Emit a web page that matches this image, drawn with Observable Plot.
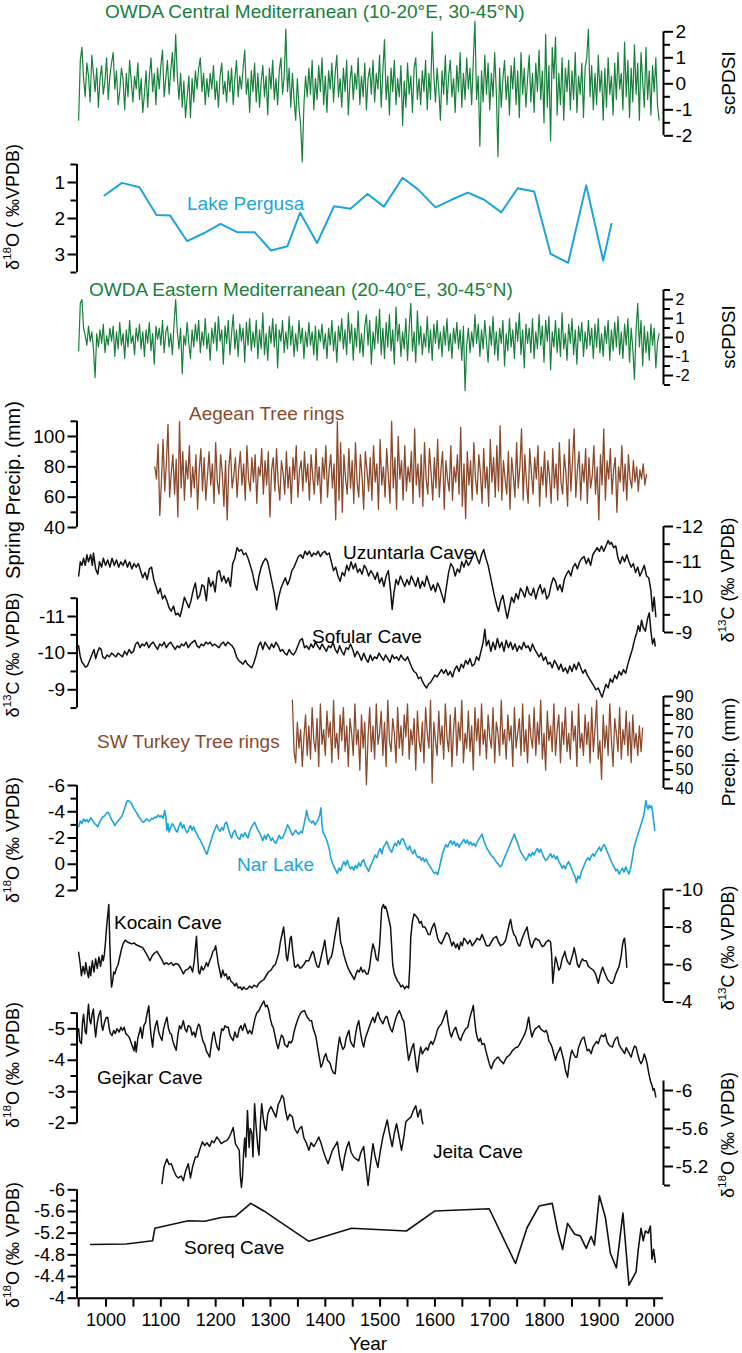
<!DOCTYPE html>
<html><head><meta charset="utf-8">
<script src="https://cdn.jsdelivr.net/npm/d3@7"></script>
<script src="https://cdn.jsdelivr.net/npm/@observablehq/plot@0.6"></script>
<style>
html,body{margin:0;padding:0;background:#fff;}
#chart{position:relative;width:742px;height:1353px;font-family:"Liberation Sans",Arial,sans-serif;}
#chart svg{position:absolute;left:0;top:0;}
</style></head><body><div id="chart"></div>
<script>
// ---------- x axis ----------
const X_DOMAIN = [947, 2017];
const xMajorTicks = [1000,1100,1200,1300,1400,1500,1600,1700,1800,1900,2000];
const xMinorTicks = [950,1050,1150,1250,1350,1450,1550,1650,1750,1850,1950];

// ---------- OWDA Central Mediterranean (scPDSI), 3-yr samples from 950 ----------
const centralStart = 950, centralStep = 3;
const centralVals = [
-1.4,0.9,1.4,0.2,-0.5,0.8,0.3,-0.7,1.1,0.4,
-0.3,0.6,-0.9,0.2,0.7,-0.4,0.1,1.0,-0.6,0.3,
0.8,1.2,-0.2,0.5,-0.8,-0.3,0.6,0.2,-1.0,0.4,
-0.5,0.9,0.1,-0.7,0.3,-0.2,0.8,-0.6,0.2,-1.1,
-0.4,0.5,-0.9,0.3,1.0,-0.3,0.4,-0.8,0.6,-0.2,
0.7,1.3,-0.5,0.2,0.9,-0.4,0.5,1.2,0.1,1.9,
0.3,-0.6,0.4,-0.9,0.1,-1.3,-0.5,0.3,-1.3,0.2,
-0.7,0.5,-0.2,0.6,1.0,-0.3,0.4,-0.8,0.2,-0.5,
0.4,-0.2,0.7,-0.6,0.1,-0.9,0.3,0.8,-0.4,0.1,
-0.7,0.5,-0.3,0.6,-0.8,0.2,0.9,-0.5,0.3,-0.2,
0.6,1.3,-0.4,0.2,-1.1,0.5,-0.3,0.8,-0.7,0.4,
-0.9,0.1,0.7,-0.5,0.3,-1.2,0.6,-0.2,0.9,-0.6,
0.2,-0.8,0.5,1.0,-0.4,0.3,2.1,-0.3,0.6,-0.9,
0.4,-0.6,-1.4,0.2,-0.9,-1.6,-3.0,-0.8,0.3,-0.5,
0.6,-0.4,0.9,-1.0,0.2,-0.6,0.7,-0.3,1.0,-0.8,
0.3,-1.1,0.5,-0.2,0.8,-0.7,0.4,1.1,-0.5,0.2,
-0.9,0.6,-0.3,0.9,-1.2,0.1,0.7,-0.6,0.4,-0.2,
1.0,-0.8,0.3,-0.5,0.8,-1.0,0.2,0.6,-0.4,0.9,
-0.7,0.4,-0.2,1.1,-0.9,0.5,1.7,-0.6,0.3,-1.2,
0.6,-0.3,0.9,-0.8,0.2,-0.5,0.7,-1.6,0.1,-0.9,
0.8,-0.4,0.3,-1.1,0.6,1.0,-0.6,0.2,-0.8,0.5,
-0.3,0.9,-1.0,0.4,-0.6,2.0,0.3,-0.7,0.6,-0.2,
-1.4,0.5,-0.4,1.1,-0.8,0.3,0.9,-0.5,0.2,-1.1,
0.7,-0.3,1.2,-0.9,0.4,-0.6,1.0,-0.2,0.6,-0.8,
0.9,2.4,-0.6,0.3,-2.4,0.5,-0.7,1.1,-0.4,0.8,
-1.0,0.4,-0.5,1.2,-0.3,-2.8,0.6,-0.9,0.2,0.9,
-0.6,0.3,-1.2,0.7,-0.2,1.0,-0.8,0.5,-1.3,1.2,
-0.4,0.6,-0.9,0.2,1.1,-0.7,0.4,-1.1,0.8,-0.3,
1.3,-0.6,0.5,-1.5,1.9,-0.9,0.7,-2.2,1.4,0.2,
1.8,-1.2,0.4,-0.8,1.0,-1.4,0.6,-0.3,0.9,-1.0,
0.5,-0.6,1.2,-1.1,0.3,-0.4,0.8,-1.3,0.6,1.0,
2.1,-0.5,0.7,-1.0,0.4,-0.8,1.1,-0.3,0.5,-1.4,
0.6,-0.9,1.0,-0.4,0.3,-1.2,0.8,-0.6,1.2,-0.2,
0.4,-1.0,1.6,-0.5,0.9,-1.3,0.6,-0.7,1.5,-0.4,
0.8,-1.4,1.2,0.1,-0.9,1.4,-0.6,0.5,-1.2,0.7,
-0.3,1.0,-0.8,-1.4];

// ---------- OWDA Eastern Mediterranean (scPDSI), 3-yr samples from 950 ----------
const easternStart = 950, easternStep = 3;
const easternVals = [
-0.7,1.8,2.0,0.5,0.1,-0.4,0.6,-0.2,0.3,-0.6,
-2.1,0.2,-0.5,0.4,-0.3,0.7,-0.8,0.1,-0.4,0.5,
-0.2,0.6,-1.0,0.3,-0.6,0.8,-0.4,0.2,-1.1,0.4,
-0.5,0.9,-0.3,0.1,-0.9,0.5,-0.2,0.7,-0.6,0.3,
-1.0,0.4,-0.3,0.8,-0.7,0.2,-1.4,0.6,-0.1,0.5,
-0.4,0.9,-0.8,0.3,0.6,-0.5,0.2,-0.9,0.7,2.0,
0.3,-0.6,0.5,-1.9,0.1,-0.4,0.8,-0.3,-1.1,0.4,
-0.5,0.7,-0.2,0.9,-0.8,0.3,-0.4,1.0,-0.6,0.2,
-1.2,0.5,-0.3,0.8,-0.7,1.1,-0.2,0.4,-1.4,0.6,
-0.3,0.9,-0.9,0.2,1.2,-0.6,0.4,-1.0,0.7,-0.2,
0.5,-1.3,0.8,-0.4,1.0,-0.7,0.3,-0.5,0.9,-1.1,
0.4,-0.6,1.3,-0.9,0.2,-1.2,0.6,-0.3,1.0,-0.5,
0.7,-1.6,0.4,-0.2,0.9,-0.8,0.3,-0.6,1.1,-0.4,
0.6,-1.0,0.2,-0.7,0.9,-0.3,0.5,-1.1,0.3,-0.5,
0.8,-0.4,0.3,-0.9,0.6,-1.2,0.4,-0.2,0.7,-0.6,
0.2,-1.1,0.5,-0.4,0.9,-0.7,0.3,-1.3,0.6,-0.2,
1.0,-0.6,0.4,-0.9,1.3,-0.3,0.7,-1.2,0.5,-0.5,
1.4,-0.8,0.2,-1.0,0.6,1.2,-0.4,0.9,-1.4,0.3,
-0.6,1.1,-0.3,1.5,-0.9,0.5,-1.1,0.8,-0.5,1.2,
-0.7,0.4,-1.4,1.6,-0.2,0.7,-1.0,0.3,-0.6,1.0,
-1.2,0.5,1.8,-0.7,0.3,-1.3,1.4,-0.4,0.6,-0.9,
0.2,-0.5,1.1,-0.8,0.4,-1.2,0.7,-0.3,0.9,-0.6,
0.3,-1.0,0.6,-0.4,1.0,-0.7,0.2,-1.1,0.5,-0.3,
0.8,-0.6,0.4,-1.2,0.6,-2.8,-0.4,0.5,-0.8,0.3,
-0.5,1.2,-0.3,0.7,-1.0,0.4,-0.6,0.9,-0.2,-1.3,
0.6,-0.4,1.1,-0.9,0.3,-1.2,0.5,-0.3,0.9,-1.5,
0.2,-0.7,1.0,-0.5,0.4,-1.1,0.8,-0.2,1.3,-0.9,
0.4,-1.6,0.7,-0.3,0.5,-0.8,1.0,-1.1,0.3,-0.6,
1.2,-0.4,0.6,-1.3,0.9,-0.2,1.1,-1.7,0.3,-0.5,
0.9,-0.8,0.5,-1.0,1.3,-0.6,0.2,-1.2,0.7,-0.3,
1.0,-0.9,0.4,-1.4,0.6,-0.2,0.8,-1.0,0.3,-0.6,
0.9,-0.4,0.5,-1.1,0.7,-0.5,1.0,-0.8,0.2,-1.0,
0.6,-0.3,0.9,-1.2,0.4,-0.7,0.8,-0.5,1.1,-0.9,
0.3,-1.1,0.7,-0.4,1.0,-1.3,0.5,-0.6,-2.2,0.4,
1.8,-0.5,0.9,-1.5,0.6,-0.8,0.3,-1.2,0.7,-0.4,
0.5,-1.6,-0.3,0.2];

// ---------- Lake Pergusa d18O ----------
const pergusa = [[997,1.36],[1029,1.01],[1061,1.13],[1092,1.9],[1117,1.92],[1148,2.63],[1178,2.41],[1209,2.15],[1239,2.38],[1271,2.38],[1301,2.89],[1331,2.77],[1354,1.84],[1385,2.68],[1416,1.66],[1446,1.73],[1477,1.32],[1507,1.67],[1541,0.87],[1569,1.19],[1601,1.69],[1630,1.48],[1660,1.28],[1690,1.48],[1721,1.83],[1751,1.16],[1781,1.25],[1811,2.98],[1843,3.23],[1876,1.08],[1907,3.17],[1922,2.15]];

// ---------- Aegean tree rings spring precip (mm), 3-yr samples from 1089 ----------
const aegeanStart = 1089, aegeanStep = 3;
const aegeanVals = [
80,72,95,48,70,98,64,82,108,60,
76,88,62,85,47,110,66,90,58,84,
72,94,60,80,66,88,52,78,92,64,
86,58,74,90,68,82,56,96,70,62,
88,76,54,84,45,80,92,66,74,86,
60,78,90,68,82,58,94,72,64,86,
70,88,56,80,74,92,62,84,68,90,
47,78,86,64,92,70,58,84,76,62,
90,66,80,56,86,72,94,60,78,84,
64,90,70,82,58,88,74,62,92,68,
80,56,86,72,94,60,78,88,66,82,
45,110,58,96,50,88,72,62,92,66,
84,56,96,70,60,88,74,52,90,78,
64,86,58,94,70,82,52,98,68,80,
60,92,74,56,110,66,86,52,100,72,
84,58,94,64,80,70,90,56,105,68,
82,60,88,54,96,72,62,92,76,58,
86,66,98,60,78,90,52,84,72,64,
94,58,80,70,88,62,106,54,82,46,
90,68,84,58,96,72,62,88,76,56,
92,66,80,54,98,70,86,60,94,64,
107,58,84,72,62,90,52,86,74,60,
96,66,80,105,58,88,70,56,92,76,
62,86,72,94,54,80,68,90,60,84,
74,56,92,66,82,58,96,70,62,88,
76,54,98,64,84,105,60,78,90,58,
82,70,92,56,86,66,74,94,62,80,
45,88,68,105,58,84,72,92,62,78,
86,50,80,70,94,64,82,58,88,72,
66,84,70,80,64,78,72,82,68,75];

// ---------- Uzuntarla Cave d13C ----------
const uzuntarla = [[950,-10.6],[953,-11.0],[956,-10.9],[959,-11.1],[962,-10.9],[965,-11.2],[968,-11.0],[972,-11.2],[975,-10.9],[977,-11.25],[981,-10.8],[985,-10.65],[988,-11.0],[992,-10.85],[995,-11.1],[999,-10.9],[1003,-11.05],[1007,-10.85],[1011,-11.1],[1015,-10.9],[1019,-11.05],[1023,-10.85],[1027,-11.0],[1031,-10.9],[1035,-11.05],[1039,-10.85],[1043,-11.0],[1047,-10.8],[1051,-10.95],[1055,-10.85],[1059,-10.95],[1063,-10.75],[1067,-10.55],[1071,-10.7],[1075,-10.5],[1079,-10.8],[1083,-10.85],[1087,-10.5],[1091,-10.3],[1095,-10.1],[1099,-10.25],[1103,-9.95],[1107,-10.05],[1111,-9.9],[1115,-9.7],[1119,-9.6],[1123,-9.75],[1127,-9.5],[1131,-9.55],[1135,-9.45],[1139,-9.7],[1143,-10.0],[1147,-9.85],[1151,-9.7],[1155,-9.9],[1159,-10.2],[1163,-10.4],[1167,-9.95],[1171,-10.05],[1175,-10.35],[1179,-10.3],[1183,-9.9],[1187,-10.55],[1191,-10.3],[1195,-10.45],[1199,-10.15],[1203,-10.7],[1207,-10.75],[1211,-10.45],[1215,-10.6],[1219,-10.4],[1223,-10.55],[1227,-10.3],[1231,-10.95],[1235,-11.1],[1239,-11.4],[1243,-11.3],[1247,-11.35],[1251,-11.2],[1255,-11.25],[1259,-11.1],[1263,-10.9],[1267,-10.7],[1271,-10.4],[1275,-10.2],[1279,-10.6],[1283,-10.85],[1287,-11.0],[1291,-11.1],[1295,-11.0],[1299,-10.7],[1303,-10.4],[1307,-10.1],[1311,-9.65],[1315,-10.0],[1319,-10.25],[1323,-10.4],[1327,-10.55],[1331,-10.35],[1335,-10.5],[1339,-10.75],[1343,-10.85],[1347,-11.0],[1351,-11.15],[1355,-11.2],[1359,-11.1],[1363,-11.3],[1367,-11.2],[1371,-11.3],[1375,-11.15],[1379,-11.25],[1383,-11.2],[1387,-11.3],[1391,-11.15],[1395,-11.25],[1399,-11.3],[1403,-11.2],[1407,-11.25],[1411,-11.0],[1415,-10.75],[1419,-10.85],[1423,-10.6],[1427,-10.45],[1431,-10.7],[1435,-10.6],[1439,-10.9],[1443,-10.75],[1447,-11.0],[1451,-10.8],[1455,-10.95],[1459,-10.7],[1463,-10.8],[1467,-10.65],[1471,-10.9],[1475,-10.8],[1479,-10.6],[1483,-10.75],[1487,-10.65],[1491,-10.5],[1495,-10.7],[1499,-10.4],[1503,-10.55],[1507,-10.3],[1511,-10.6],[1515,-10.75],[1519,-10.2],[1522,-9.65],[1525,-10.1],[1529,-10.5],[1533,-10.35],[1537,-10.6],[1541,-10.45],[1545,-10.3],[1549,-10.5],[1553,-10.35],[1557,-10.6],[1561,-10.45],[1565,-10.3],[1569,-10.55],[1573,-10.25],[1577,-10.45],[1581,-10.3],[1585,-10.6],[1589,-10.4],[1593,-10.2],[1597,-10.35],[1601,-10.15],[1605,-10.4],[1609,-10.25],[1613,-10.05],[1617,-9.85],[1621,-10.3],[1625,-10.7],[1629,-10.95],[1633,-10.85],[1637,-10.6],[1641,-10.8],[1645,-10.7],[1649,-11.0],[1653,-10.85],[1657,-11.05],[1661,-10.9],[1665,-11.0],[1669,-11.15],[1673,-11.3],[1677,-11.1],[1681,-10.95],[1685,-11.2],[1689,-11.35],[1693,-11.1],[1697,-10.9],[1701,-10.6],[1705,-10.3],[1709,-10.0],[1713,-9.75],[1716,-9.6],[1720,-9.9],[1724,-10.05],[1728,-9.7],[1732,-9.4],[1736,-9.7],[1740,-10.0],[1744,-9.85],[1748,-10.1],[1752,-9.95],[1756,-10.25],[1760,-10.15],[1764,-10.0],[1768,-10.3],[1772,-10.1],[1776,-10.05],[1780,-10.25],[1784,-9.95],[1788,-10.2],[1792,-10.35],[1796,-10.1],[1800,-10.25],[1804,-9.95],[1808,-10.05],[1812,-10.35],[1816,-10.55],[1820,-10.45],[1824,-10.2],[1828,-10.35],[1832,-10.15],[1836,-10.5],[1840,-10.65],[1844,-10.75],[1848,-10.6],[1852,-10.85],[1856,-10.95],[1860,-10.8],[1864,-11.0],[1868,-11.1],[1872,-11.15],[1876,-10.95],[1880,-11.1],[1884,-10.9],[1888,-11.2],[1892,-11.3],[1896,-11.4],[1900,-11.3],[1904,-11.45],[1908,-11.3],[1912,-11.45],[1916,-11.6],[1919,-11.5],[1922,-11.55],[1926,-11.4],[1930,-11.45],[1934,-11.1],[1938,-10.95],[1942,-11.15],[1946,-11.0],[1950,-11.2],[1954,-11.0],[1958,-10.85],[1962,-10.95],[1966,-10.7],[1970,-10.85],[1974,-10.6],[1978,-10.75],[1982,-10.9],[1986,-10.6],[1990,-10.55],[1994,-10.2],[1997,-9.6],[2000,-10.0],[2003,-9.45]];

// ---------- Sofular Cave d13C ----------
const sofular = [[950,-10.2],[953,-9.9],[956,-9.75],[959,-9.7],[962,-9.62],[966,-9.65],[970,-9.8],[974,-9.95],[978,-10.1],[981,-9.85],[985,-10.05],[988,-10.15],[991,-10.1],[994,-9.9],[998,-9.85],[1002,-9.95],[1006,-9.9],[1010,-10.0],[1014,-9.95],[1018,-9.9],[1022,-10.0],[1026,-9.95],[1030,-9.9],[1034,-10.05],[1038,-9.95],[1042,-10.1],[1046,-10.0],[1050,-10.05],[1054,-10.25],[1058,-10.3],[1062,-10.15],[1066,-10.25],[1070,-10.2],[1074,-10.3],[1078,-10.15],[1082,-10.25],[1086,-10.3],[1090,-10.2],[1094,-10.1],[1098,-10.25],[1102,-10.2],[1106,-10.3],[1110,-10.15],[1114,-10.25],[1118,-10.3],[1122,-10.2],[1126,-10.1],[1130,-10.2],[1134,-10.15],[1138,-10.25],[1142,-10.2],[1146,-10.3],[1150,-10.15],[1154,-10.25],[1158,-10.3],[1162,-10.35],[1166,-10.2],[1170,-10.15],[1174,-10.25],[1178,-10.2],[1182,-10.3],[1186,-10.25],[1190,-10.3],[1194,-10.2],[1198,-10.25],[1202,-10.2],[1206,-10.15],[1210,-10.25],[1214,-10.3],[1218,-10.2],[1222,-10.3],[1226,-10.25],[1230,-10.2],[1234,-10.1],[1238,-9.9],[1242,-9.8],[1246,-9.75],[1250,-9.7],[1254,-9.8],[1258,-9.7],[1262,-9.65],[1266,-9.6],[1270,-9.75],[1274,-9.95],[1278,-10.2],[1282,-10.3],[1286,-10.1],[1290,-10.3],[1294,-10.2],[1298,-10.1],[1302,-10.25],[1306,-10.15],[1310,-10.3],[1314,-10.2],[1318,-10.05],[1322,-10.1],[1326,-10.0],[1330,-9.95],[1334,-10.1],[1338,-10.0],[1342,-9.95],[1346,-10.05],[1350,-10.2],[1354,-10.35],[1358,-10.4],[1362,-10.15],[1366,-10.2],[1370,-10.1],[1374,-10.25],[1378,-10.15],[1382,-10.3],[1386,-10.2],[1390,-10.1],[1394,-10.25],[1398,-10.15],[1402,-10.05],[1406,-10.2],[1410,-10.15],[1414,-10.3],[1418,-10.1],[1422,-10.0],[1426,-10.2],[1430,-10.05],[1434,-9.95],[1438,-10.15],[1442,-10.1],[1446,-10.25],[1450,-10.1],[1454,-9.9],[1458,-10.05],[1462,-9.95],[1466,-9.8],[1470,-10.0],[1474,-9.85],[1478,-9.75],[1482,-9.95],[1486,-9.8],[1490,-9.9],[1494,-9.85],[1498,-10.0],[1502,-9.9],[1506,-9.8],[1510,-9.95],[1514,-9.85],[1518,-9.75],[1522,-9.95],[1526,-9.85],[1530,-9.9],[1534,-9.8],[1538,-9.95],[1542,-9.85],[1546,-9.8],[1550,-9.9],[1554,-9.75],[1558,-9.6],[1562,-9.5],[1566,-9.45],[1570,-9.3],[1574,-9.35],[1578,-9.2],[1582,-9.1],[1585,-9.05],[1588,-9.15],[1592,-9.2],[1596,-9.3],[1600,-9.4],[1604,-9.35],[1608,-9.45],[1612,-9.55],[1616,-9.45],[1620,-9.55],[1624,-9.4],[1628,-9.5],[1632,-9.35],[1636,-9.55],[1640,-9.65],[1644,-9.5],[1648,-9.7],[1652,-9.6],[1656,-9.8],[1660,-9.7],[1664,-9.85],[1668,-9.65],[1672,-9.7],[1676,-9.9],[1680,-9.8],[1684,-10.05],[1688,-10.3],[1691,-10.65],[1694,-10.2],[1698,-10.35],[1702,-10.05],[1706,-10.3],[1710,-10.1],[1714,-10.4],[1718,-10.15],[1722,-10.3],[1726,-10.05],[1730,-10.35],[1734,-10.15],[1738,-10.3],[1742,-10.1],[1746,-10.25],[1750,-10.05],[1754,-10.2],[1758,-10.1],[1762,-10.3],[1766,-10.15],[1770,-10.2],[1774,-10.05],[1778,-10.25],[1782,-10.1],[1786,-10.0],[1790,-9.9],[1794,-10.0],[1798,-9.8],[1802,-9.9],[1806,-9.7],[1810,-9.75],[1814,-9.6],[1818,-9.8],[1822,-9.7],[1826,-9.55],[1830,-9.7],[1834,-9.5],[1838,-9.6],[1842,-9.45],[1846,-9.65],[1850,-9.5],[1854,-9.7],[1858,-9.55],[1862,-9.75],[1866,-9.6],[1870,-9.45],[1874,-9.55],[1878,-9.4],[1882,-9.3],[1886,-9.2],[1890,-9.1],[1894,-9.0],[1898,-9.05],[1902,-8.9],[1905,-8.8],[1908,-8.95],[1912,-9.15],[1916,-9.05],[1920,-9.3],[1924,-9.2],[1928,-9.4],[1932,-9.3],[1936,-9.5],[1940,-9.4],[1944,-9.55],[1948,-9.45],[1952,-9.7],[1956,-9.9],[1960,-10.1],[1964,-10.35],[1968,-10.55],[1971,-10.75],[1974,-10.6],[1977,-10.9],[1980,-10.7],[1984,-10.6],[1988,-10.95],[1991,-11.1],[1994,-10.6],[1997,-10.25],[2000,-10.4],[2002,-10.2]];

// ---------- SW Turkey tree rings precip (mm), 3-yr samples from 1340 ----------
const swTurkeyStart = 1340, swTurkeyStep = 3;
const swTurkeyVals = [
88,60,54,76,62,72,52,68,80,58,
74,56,84,66,60,78,52,86,64,72,
58,82,68,76,54,88,62,70,56,80,
66,84,60,74,52,78,70,58,86,64,
72,50,80,62,76,42,68,84,60,74,
56,86,64,70,82,58,76,52,88,66,
60,78,70,54,84,62,74,58,80,68,
86,56,72,64,78,50,82,66,60,76,
54,84,70,62,88,43,76,66,58,82,
64,74,56,86,68,60,80,52,72,84,
58,76,66,88,54,70,62,82,60,74,
50,84,66,78,58,86,64,72,56,80,
68,62,84,54,76,70,58,88,64,72,
56,80,66,74,52,84,62,70,78,58,
86,60,72,54,80,68,62,84,58,76,
64,88,56,70,50,82,66,74,60,86,
58,72,80,54,76,64,84,60,70,56,
82,66,74,52,86,62,70,58,80,64,
76,54,84,60,72,88,56,66,45,80,
62,74,58,86,66,52,78,70,60,84,
56,72,64,82,58,76,54,80,62,70,
58,74,60,73];

// ---------- Nar Lake d18O ----------
const nar = [[950,-2.85],[953,-3.3],[956,-3.1],[959,-3.45],[962,-3.25],[965,-3.4],[968,-3.2],[972,-3.55],[976,-3.3],[979,-3.1],[982,-3.0],[985,-2.85],[988,-3.2],[991,-3.4],[994,-3.6],[998,-3.7],[1001,-3.9],[1004,-3.95],[1007,-3.7],[1010,-3.4],[1013,-3.2],[1016,-2.95],[1019,-3.15],[1022,-3.3],[1026,-3.5],[1029,-3.65],[1032,-4.0],[1035,-4.4],[1038,-4.8],[1041,-4.85],[1044,-4.75],[1047,-4.6],[1050,-4.3],[1053,-4.1],[1056,-3.9],[1059,-3.65],[1062,-3.5],[1065,-3.3],[1068,-3.2],[1071,-3.3],[1074,-3.45],[1077,-3.35],[1080,-3.3],[1083,-3.5],[1086,-3.45],[1089,-3.6],[1092,-3.55],[1095,-3.75],[1098,-3.6],[1101,-3.7],[1104,-3.5],[1107,-4.1],[1109,-3.6],[1111,-2.6],[1113,-3.1],[1115,-2.45],[1118,-2.8],[1121,-3.1],[1124,-2.9],[1127,-2.6],[1130,-2.45],[1133,-2.9],[1136,-3.2],[1139,-2.75],[1142,-3.0],[1145,-2.6],[1148,-2.4],[1151,-2.7],[1154,-2.95],[1157,-2.6],[1160,-2.85],[1163,-2.5],[1166,-2.3],[1169,-2.0],[1172,-1.85],[1175,-1.55],[1178,-1.3],[1181,-1.0],[1184,-0.75],[1187,-1.2],[1190,-1.6],[1193,-2.0],[1196,-2.4],[1199,-2.7],[1202,-3.0],[1205,-2.7],[1208,-2.5],[1211,-2.8],[1214,-2.6],[1217,-3.1],[1220,-3.2],[1223,-2.7],[1226,-2.3],[1229,-2.0],[1232,-2.4],[1235,-2.6],[1238,-2.2],[1241,-2.0],[1244,-1.9],[1247,-2.3],[1250,-2.1],[1253,-2.4],[1256,-2.2],[1259,-2.0],[1262,-2.5],[1265,-2.8],[1268,-3.0],[1271,-3.2],[1274,-2.9],[1277,-2.6],[1280,-2.4],[1283,-2.1],[1286,-1.8],[1289,-2.2],[1292,-1.9],[1295,-2.3],[1298,-2.1],[1301,-1.8],[1304,-2.0],[1307,-1.7],[1310,-1.6],[1313,-1.9],[1316,-2.2],[1319,-1.95],[1322,-2.0],[1325,-2.3],[1328,-2.6],[1331,-3.0],[1334,-2.8],[1337,-2.5],[1340,-2.2],[1343,-2.4],[1346,-2.6],[1349,-2.4],[1352,-2.3],[1355,-2.5],[1358,-2.4],[1361,-3.0],[1364,-3.6],[1366,-4.1],[1369,-3.5],[1372,-3.3],[1375,-3.15],[1378,-3.3],[1381,-3.0],[1384,-3.2],[1387,-3.4],[1390,-3.8],[1392,-4.3],[1394,-3.0],[1396,-2.4],[1399,-2.2],[1402,-1.9],[1405,-1.5],[1408,-1.0],[1410,-0.5],[1413,-0.1],[1416,0.2],[1419,0.45],[1422,0.7],[1425,0.3],[1428,0.5],[1431,0.1],[1434,-0.2],[1437,0.1],[1440,-0.3],[1443,0.1],[1446,0.35],[1449,0.2],[1452,0.45],[1455,0.1],[1458,0.3],[1461,-0.1],[1464,0.15],[1467,-0.2],[1470,-0.35],[1473,0.05],[1476,0.3],[1479,0.55],[1482,0.2],[1485,-0.1],[1488,-0.4],[1491,-0.7],[1494,-0.5],[1497,-0.9],[1500,-1.2],[1503,-0.8],[1506,-1.3],[1509,-1.5],[1512,-1.75],[1515,-1.4],[1518,-1.1],[1521,-0.9],[1524,-1.3],[1527,-1.6],[1530,-1.4],[1533,-1.8],[1536,-1.5],[1539,-1.9],[1542,-1.95],[1545,-1.6],[1548,-1.3],[1551,-1.1],[1554,-1.4],[1557,-1.0],[1560,-0.8],[1563,-1.1],[1566,-0.7],[1569,-0.5],[1572,-0.6],[1575,-0.3],[1578,-0.5],[1581,-0.2],[1584,-0.4],[1587,-0.1],[1590,0.1],[1593,0.3],[1596,0.5],[1599,0.7],[1602,0.6],[1605,0.8],[1608,0.3],[1611,-0.3],[1614,-0.8],[1617,-1.2],[1620,-1.5],[1623,-1.3],[1626,-1.6],[1629,-1.8],[1632,-1.5],[1635,-1.75],[1638,-1.4],[1641,-1.6],[1644,-1.3],[1647,-1.55],[1650,-1.7],[1653,-1.9],[1656,-1.6],[1659,-1.85],[1662,-1.5],[1665,-1.7],[1668,-1.45],[1671,-1.6],[1674,-1.35],[1677,-1.7],[1680,-1.9],[1683,-2.1],[1686,-2.3],[1689,-1.8],[1692,-1.5],[1695,-1.2],[1698,-1.0],[1701,-0.8],[1704,-0.6],[1707,-0.5],[1710,-0.3],[1713,-0.1],[1716,0.0],[1719,0.2],[1722,0.05],[1725,-0.3],[1728,-0.6],[1731,-0.9],[1734,-1.2],[1737,-1.5],[1740,-1.8],[1743,-2.1],[1745,-2.3],[1748,-1.9],[1751,-1.6],[1754,-1.2],[1757,-0.9],[1760,-0.7],[1763,-0.5],[1766,-0.3],[1769,-0.5],[1772,-0.8],[1775,-0.6],[1778,-0.9],[1781,-0.7],[1784,-1.0],[1787,-1.2],[1790,-0.9],[1793,-1.15],[1796,-0.8],[1799,-0.5],[1802,-0.3],[1805,-0.4],[1808,-0.6],[1811,-0.8],[1814,-0.5],[1817,-0.7],[1820,-0.4],[1823,-0.6],[1826,-0.2],[1829,0.0],[1832,0.3],[1835,0.1],[1838,0.35],[1841,0.0],[1844,-0.2],[1847,0.1],[1850,0.4],[1853,0.7],[1856,1.0],[1858,1.4],[1861,0.9],[1864,1.1],[1867,0.6],[1870,0.3],[1873,0.0],[1876,-0.3],[1879,-0.5],[1882,-0.3],[1885,-0.6],[1888,-0.8],[1891,-0.6],[1894,-0.9],[1897,-1.1],[1900,-1.3],[1903,-1.0],[1906,-1.35],[1909,-1.5],[1912,-1.2],[1915,-0.9],[1918,-0.6],[1921,-0.3],[1924,0.0],[1927,0.2],[1930,0.5],[1933,0.4],[1936,0.75],[1939,0.5],[1942,0.3],[1945,0.6],[1948,0.2],[1951,0.5],[1954,0.75],[1957,0.3],[1960,-0.4],[1963,-1.2],[1966,-1.7],[1969,-2.1],[1972,-2.5],[1975,-2.9],[1978,-3.3],[1981,-3.7],[1983,-4.3],[1985,-4.85],[1987,-4.4],[1989,-4.2],[1991,-4.5],[1993,-4.3],[1995,-4.45],[1997,-4.0],[1999,-3.3],[2001,-2.6]];

// ---------- Kocain Cave d13C ----------
const kocain = [[950,-6.65],[953,-6.0],[955,-5.4],[958,-5.9],[961,-5.5],[963,-6.1],[965,-5.7],[968,-5.3],[970,-5.9],[972,-5.4],[975,-6.2],[978,-5.6],[981,-6.3],[984,-5.8],[987,-6.4],[990,-5.9],[993,-6.5],[995,-6.2],[997,-6.55],[999,-7.2],[1001,-8.0],[1003,-8.6],[1005,-9.2],[1007,-7.0],[1009,-5.3],[1010,-4.8],[1012,-5.1],[1014,-5.6],[1016,-5.5],[1019,-5.8],[1022,-6.0],[1025,-6.4],[1028,-6.8],[1031,-7.1],[1035,-7.3],[1039,-7.2],[1043,-7.15],[1047,-7.1],[1051,-7.15],[1055,-7.05],[1059,-7.0],[1063,-6.95],[1067,-6.9],[1071,-6.7],[1075,-6.5],[1080,-6.2],[1084,-6.45],[1088,-6.6],[1093,-6.7],[1097,-6.5],[1101,-6.3],[1106,-6.0],[1110,-6.1],[1114,-6.0],[1119,-6.1],[1123,-5.95],[1127,-6.05],[1132,-6.0],[1136,-5.8],[1141,-5.5],[1145,-5.7],[1149,-5.75],[1154,-5.9],[1158,-5.6],[1161,-6.2],[1163,-6.9],[1165,-7.5],[1167,-6.4],[1169,-5.6],[1171,-5.5],[1174,-5.9],[1177,-5.7],[1180,-5.85],[1183,-6.1],[1186,-5.9],[1189,-6.2],[1192,-6.4],[1195,-6.7],[1198,-6.8],[1200,-7.0],[1202,-6.6],[1205,-6.0],[1208,-5.6],[1210,-5.3],[1213,-5.7],[1216,-5.4],[1219,-5.5],[1222,-5.2],[1225,-5.35],[1228,-5.1],[1232,-5.0],[1235,-4.85],[1238,-5.0],[1241,-4.75],[1245,-4.8],[1248,-4.65],[1251,-4.8],[1254,-4.7],[1258,-4.7],[1262,-4.85],[1266,-4.75],[1270,-4.9],[1275,-4.8],[1279,-5.0],[1283,-5.1],[1288,-5.2],[1292,-5.4],[1296,-5.6],[1301,-5.7],[1305,-5.9],[1309,-6.0],[1312,-6.3],[1315,-6.6],[1318,-7.2],[1321,-7.6],[1324,-8.0],[1327,-7.1],[1329,-6.4],[1331,-6.2],[1334,-6.9],[1336,-7.4],[1338,-7.5],[1341,-6.6],[1344,-5.9],[1346,-5.85],[1350,-6.0],[1354,-5.8],[1357,-5.85],[1361,-6.0],[1365,-6.2],[1370,-6.2],[1374,-6.5],[1377,-6.7],[1379,-6.6],[1382,-6.2],[1385,-5.9],[1388,-5.85],[1391,-6.2],[1394,-6.6],[1397,-7.0],[1399,-7.3],[1402,-6.6],[1405,-6.0],[1408,-6.3],[1411,-6.4],[1414,-6.8],[1417,-7.4],[1420,-7.9],[1422,-8.3],[1424,-8.5],[1426,-7.8],[1428,-7.2],[1431,-6.9],[1434,-6.5],[1437,-6.2],[1441,-5.85],[1445,-5.6],[1449,-5.4],[1453,-5.2],[1456,-5.5],[1459,-5.7],[1462,-5.6],[1465,-5.85],[1468,-5.6],[1471,-5.7],[1475,-5.5],[1478,-5.5],[1481,-5.9],[1484,-6.6],[1487,-7.1],[1490,-6.8],[1493,-6.3],[1496,-6.2],[1499,-7.0],[1501,-8.0],[1503,-9.0],[1506,-9.2],[1508,-9.0],[1510,-9.1],[1513,-8.8],[1516,-8.4],[1519,-8.0],[1521,-7.0],[1523,-6.0],[1526,-5.5],[1529,-5.3],[1532,-5.1],[1535,-5.0],[1538,-4.8],[1541,-4.9],[1545,-4.7],[1548,-4.85],[1552,-4.75],[1554,-5.8],[1556,-7.5],[1559,-8.3],[1562,-8.7],[1565,-8.6],[1569,-8.45],[1572,-8.2],[1575,-8.3],[1578,-8.0],[1582,-8.0],[1585,-7.8],[1588,-7.6],[1591,-7.6],[1594,-7.9],[1597,-8.1],[1599,-8.2],[1602,-7.8],[1605,-7.4],[1608,-7.2],[1612,-7.1],[1615,-7.3],[1618,-7.5],[1621,-7.7],[1625,-7.6],[1628,-7.3],[1631,-7.0],[1634,-7.2],[1638,-6.9],[1641,-7.1],[1644,-6.8],[1647,-7.2],[1650,-7.0],[1653,-7.4],[1656,-7.3],[1660,-7.1],[1664,-7.3],[1668,-7.0],[1673,-7.2],[1677,-7.4],[1682,-7.3],[1686,-7.6],[1690,-7.3],[1694,-7.0],[1699,-7.0],[1703,-7.2],[1707,-7.4],[1712,-7.5],[1716,-7.2],[1720,-7.0],[1725,-7.1],[1729,-7.3],[1733,-7.8],[1736,-8.2],[1738,-8.4],[1741,-7.9],[1744,-7.6],[1747,-7.5],[1750,-7.2],[1753,-7.0],[1755,-7.0],[1758,-7.3],[1762,-7.6],[1765,-7.8],[1768,-8.0],[1771,-7.5],[1774,-7.1],[1777,-6.9],[1780,-7.2],[1784,-7.4],[1788,-7.3],[1790,-7.3],[1793,-7.1],[1796,-6.95],[1799,-7.0],[1803,-7.2],[1807,-7.3],[1811,-7.2],[1813,-6.5],[1815,-5.0],[1817,-5.6],[1820,-6.4],[1823,-6.1],[1826,-5.7],[1829,-5.85],[1832,-6.3],[1835,-6.5],[1837,-6.7],[1840,-6.3],[1843,-6.1],[1846,-6.0],[1849,-6.3],[1852,-6.6],[1854,-6.9],[1857,-6.5],[1860,-6.0],[1863,-5.85],[1866,-6.1],[1869,-6.3],[1872,-6.2],[1876,-6.2],[1880,-5.9],[1884,-5.8],[1889,-5.7],[1893,-5.5],[1896,-5.2],[1898,-5.0],[1901,-5.4],[1904,-5.7],[1906,-5.85],[1909,-5.6],[1912,-5.4],[1915,-5.2],[1918,-5.1],[1921,-5.0],[1924,-5.0],[1927,-5.2],[1930,-5.5],[1933,-5.7],[1936,-5.9],[1938,-6.2],[1940,-6.5],[1942,-7.0],[1944,-7.3],[1946,-7.4],[1948,-6.8],[1950,-5.85]];

// ---------- Gejkar Cave d18O ----------
const gejkar = [[950,-5.0],[952,-4.6],[955,-4.53],[957,-5.2],[959,-5.46],[962,-4.9],[964,-4.84],[966,-5.4],[968,-5.78],[970,-5.3],[972,-5.16],[975,-5.5],[977,-5.63],[979,-5.1],[981,-4.74],[984,-5.2],[987,-5.45],[990,-5.58],[992,-5.1],[994,-4.95],[997,-5.2],[1000,-5.35],[1003,-5.37],[1006,-5.0],[1008,-4.85],[1011,-4.79],[1014,-4.95],[1017,-4.85],[1020,-5.0],[1024,-4.9],[1027,-5.05],[1030,-4.95],[1033,-5.05],[1036,-4.85],[1039,-4.8],[1042,-4.74],[1045,-4.6],[1048,-4.45],[1051,-4.3],[1053,-4.6],[1055,-4.26],[1058,-4.7],[1061,-4.9],[1063,-5.05],[1066,-4.7],[1069,-5.1],[1072,-5.2],[1075,-5.5],[1078,-5.73],[1080,-5.2],[1082,-4.8],[1085,-4.42],[1087,-4.8],[1090,-5.1],[1093,-5.26],[1096,-4.9],[1099,-4.75],[1102,-4.63],[1105,-5.0],[1108,-5.2],[1111,-5.37],[1114,-5.0],[1117,-4.85],[1119,-4.84],[1122,-4.6],[1125,-4.45],[1128,-4.32],[1131,-4.8],[1134,-5.1],[1137,-5.0],[1141,-5.26],[1144,-5.0],[1147,-4.9],[1150,-5.1],[1154,-5.05],[1157,-4.8],[1160,-4.9],[1163,-4.74],[1166,-5.0],[1169,-5.15],[1171,-5.1],[1174,-4.8],[1177,-4.6],[1180,-4.5],[1183,-4.3],[1186,-4.2],[1189,-4.1],[1192,-4.5],[1195,-4.84],[1197,-4.9],[1200,-4.6],[1203,-4.4],[1206,-4.32],[1208,-4.7],[1211,-5.0],[1214,-4.95],[1217,-5.1],[1220,-5.05],[1223,-5.05],[1226,-4.8],[1229,-4.7],[1232,-4.63],[1235,-4.9],[1238,-4.74],[1240,-4.74],[1243,-5.0],[1246,-5.1],[1249,-4.95],[1253,-5.16],[1256,-5.0],[1259,-4.85],[1262,-4.95],[1266,-4.84],[1269,-5.1],[1272,-5.35],[1275,-5.5],[1279,-5.58],[1282,-5.7],[1285,-5.8],[1288,-5.88],[1291,-5.7],[1294,-5.75],[1297,-5.58],[1300,-5.3],[1303,-5.1],[1305,-5.05],[1308,-4.8],[1311,-4.55],[1314,-4.37],[1317,-4.6],[1320,-4.8],[1323,-4.74],[1326,-4.5],[1329,-4.45],[1331,-4.42],[1334,-4.6],[1337,-4.55],[1340,-4.63],[1343,-4.9],[1346,-5.1],[1349,-5.26],[1352,-5.4],[1355,-5.5],[1358,-5.55],[1362,-5.58],[1365,-5.45],[1368,-5.35],[1372,-5.26],[1375,-5.26],[1378,-5.0],[1381,-4.85],[1383,-4.74],[1386,-4.4],[1389,-4.1],[1392,-3.78],[1395,-3.9],[1398,-4.1],[1401,-4.21],[1404,-4.0],[1407,-3.95],[1409,-3.89],[1412,-3.7],[1415,-3.6],[1418,-3.57],[1421,-4.1],[1424,-4.5],[1426,-4.74],[1429,-4.5],[1432,-4.35],[1435,-4.42],[1438,-4.7],[1441,-4.85],[1443,-4.95],[1446,-4.6],[1449,-4.5],[1452,-4.42],[1455,-4.8],[1458,-5.1],[1461,-5.26],[1464,-4.9],[1467,-4.6],[1470,-4.42],[1473,-4.7],[1476,-4.85],[1478,-4.95],[1481,-5.1],[1484,-5.25],[1487,-5.37],[1490,-5.2],[1493,-5.4],[1496,-5.53],[1499,-5.35],[1502,-5.25],[1505,-5.16],[1508,-5.3],[1511,-5.4],[1513,-5.37],[1516,-5.15],[1519,-5.0],[1522,-4.9],[1525,-5.1],[1528,-5.3],[1531,-5.45],[1535,-5.58],[1538,-5.45],[1541,-5.3],[1543,-5.26],[1546,-4.9],[1549,-4.4],[1552,-4.0],[1555,-4.2],[1558,-4.4],[1561,-4.53],[1564,-4.1],[1566,-3.8],[1568,-3.63],[1571,-4.1],[1574,-4.42],[1577,-4.2],[1580,-4.3],[1584,-4.4],[1587,-4.32],[1590,-4.5],[1593,-4.6],[1596,-4.5],[1599,-4.63],[1602,-4.8],[1605,-5.0],[1609,-5.1],[1612,-5.16],[1615,-5.3],[1618,-5.45],[1621,-5.58],[1624,-5.2],[1627,-4.9],[1630,-4.74],[1633,-4.9],[1636,-5.0],[1638,-5.05],[1641,-4.85],[1644,-4.7],[1647,-4.63],[1650,-4.8],[1653,-4.9],[1656,-5.0],[1660,-5.05],[1663,-5.3],[1666,-5.5],[1668,-5.6],[1670,-5.74],[1673,-5.2],[1675,-4.9],[1677,-4.74],[1680,-4.6],[1683,-4.7],[1686,-4.5],[1690,-4.53],[1693,-4.3],[1696,-4.1],[1699,-3.9],[1701,-3.8],[1703,-3.73],[1706,-3.9],[1709,-4.0],[1712,-4.05],[1714,-4.1],[1716,-4.1],[1719,-4.0],[1722,-3.95],[1725,-3.89],[1728,-4.0],[1731,-4.1],[1735,-4.15],[1738,-4.21],[1741,-4.3],[1744,-4.35],[1747,-4.4],[1751,-4.42],[1754,-4.5],[1757,-4.6],[1760,-4.7],[1764,-4.84],[1767,-5.0],[1769,-5.2],[1771,-5.37],[1774,-5.0],[1777,-4.74],[1780,-4.9],[1783,-5.0],[1787,-5.05],[1790,-5.1],[1793,-5.0],[1796,-4.95],[1800,-4.9],[1803,-4.95],[1806,-4.8],[1808,-4.6],[1811,-4.53],[1814,-4.4],[1817,-4.2],[1820,-4.0],[1823,-4.2],[1826,-4.3],[1829,-4.42],[1832,-4.2],[1835,-4.0],[1838,-3.7],[1842,-3.46],[1845,-3.9],[1848,-4.2],[1850,-4.32],[1853,-4.2],[1856,-4.1],[1859,-4.1],[1862,-4.4],[1866,-4.6],[1869,-4.7],[1872,-4.74],[1875,-4.5],[1878,-4.3],[1881,-4.35],[1885,-4.21],[1888,-4.4],[1891,-4.5],[1895,-4.6],[1898,-4.53],[1901,-4.7],[1904,-4.8],[1908,-4.75],[1911,-4.84],[1914,-4.6],[1917,-4.5],[1920,-4.45],[1924,-4.42],[1927,-4.6],[1930,-4.7],[1933,-4.74],[1936,-4.5],[1939,-4.4],[1943,-4.3],[1946,-4.21],[1949,-4.4],[1952,-4.3],[1955,-4.2],[1958,-4.1],[1961,-4.3],[1964,-4.45],[1967,-4.42],[1970,-4.2],[1973,-4.0],[1976,-3.89],[1979,-4.0],[1982,-4.2],[1984,-4.1],[1987,-3.9],[1990,-3.6],[1993,-3.36],[1996,-3.2],[1998,-3.05],[2000,-3.1],[2003,-2.84]];

// ---------- Jeita Cave d18O ----------
const jeita = [[1102,-5.02],[1106,-5.2],[1111,-5.28],[1115,-5.22],[1119,-5.23],[1124,-5.15],[1128,-5.1],[1132,-5.08],[1137,-5.1],[1141,-5.05],[1145,-5.15],[1150,-5.23],[1154,-5.08],[1158,-5.2],[1163,-5.3],[1167,-5.3],[1171,-5.38],[1176,-5.46],[1180,-5.42],[1184,-5.45],[1189,-5.41],[1193,-5.47],[1197,-5.45],[1202,-5.51],[1206,-5.48],[1210,-5.44],[1215,-5.46],[1219,-5.47],[1223,-5.49],[1228,-5.55],[1232,-5.61],[1236,-5.44],[1240,-5.4],[1243,-5.37],[1245,-5.1],[1247,-4.98],[1249,-5.1],[1251,-5.35],[1253,-5.5],[1255,-5.3],[1258,-5.79],[1261,-5.4],[1263,-5.6],[1266,-5.55],[1268,-5.3],[1271,-5.86],[1274,-5.6],[1277,-5.4],[1279,-5.32],[1282,-5.7],[1284,-5.86],[1287,-5.7],[1290,-5.6],[1292,-5.58],[1295,-5.75],[1298,-5.8],[1301,-5.83],[1305,-5.78],[1310,-5.72],[1314,-5.85],[1318,-5.9],[1321,-5.95],[1324,-5.92],[1327,-5.8],[1331,-5.69],[1335,-5.75],[1340,-5.72],[1344,-5.6],[1349,-5.55],[1353,-5.6],[1357,-5.62],[1361,-5.5],[1366,-5.44],[1370,-5.37],[1374,-5.45],[1379,-5.41],[1383,-5.45],[1388,-5.51],[1392,-5.45],[1396,-5.37],[1400,-5.3],[1405,-5.23],[1409,-5.3],[1413,-5.37],[1418,-5.42],[1422,-5.46],[1426,-5.3],[1431,-5.16],[1435,-5.3],[1439,-5.4],[1443,-5.46],[1447,-5.35],[1452,-5.3],[1456,-5.28],[1461,-5.26],[1465,-5.35],[1470,-5.41],[1474,-5.2],[1478,-5.0],[1482,-5.2],[1487,-5.44],[1491,-5.3],[1496,-5.19],[1500,-5.35],[1505,-5.51],[1509,-5.6],[1513,-5.69],[1517,-5.55],[1522,-5.41],[1526,-5.55],[1530,-5.65],[1535,-5.5],[1539,-5.37],[1543,-5.5],[1547,-5.67],[1552,-5.7],[1556,-5.72],[1560,-5.78],[1565,-5.84],[1569,-5.72],[1572,-5.78],[1574,-5.8],[1576,-5.7],[1578,-5.65]];

// ---------- Soreq Cave d18O ----------
const soreq = [[972,-4.99],[1037,-5.0],[1085,-5.06],[1089,-5.29],[1150,-5.43],[1180,-5.42],[1210,-5.49],[1236,-5.51],[1264,-5.75],[1288,-5.61],[1314,-5.43],[1370,-5.05],[1448,-5.29],[1548,-5.24],[1600,-5.61],[1699,-5.65],[1747,-4.64],[1768,-5.3],[1790,-5.7],[1814,-5.75],[1824,-5.24],[1833,-4.9],[1842,-5.38],[1855,-5.18],[1865,-5.15],[1876,-4.92],[1885,-5.14],[1891,-4.98],[1900,-5.89],[1911,-5.49],[1920,-4.83],[1931,-4.56],[1943,-5.57],[1954,-4.24],[1967,-4.49],[1971,-4.9],[1976,-5.29],[1980,-5.06],[1984,-5.24],[1989,-5.2],[1993,-5.33],[1996,-4.72],[1999,-4.9],[2002,-4.66]];

// ---------- rendering ----------
const W = 742, H = 1353, ML = 76.5, MR = 79;
const FONT = '"Liberation Sans", Arial, sans-serif';
const GREEN = "#17803b", BLUE = "#1ca4dc", BROWN = "#8b4a2b", BLACK = "#111";
const chart = document.getElementById("chart");

const regular = (start, step, vals) => vals.map((v, i) => ({year: start + i * step, v}));
const pairs = arr => arr.map(([year, v]) => ({year, v}));
const fmt = d => String(d);

function panel({data, color, sw = 1.4, domain, range, side, major, minor, extra = [], mb = 0, fs = 19}) {
  const edge = side === "left" ? X_DOMAIN[0] : X_DOMAIN[1];
  const svg = Plot.plot({
    width: W, height: H, marginLeft: ML, marginRight: MR, marginTop: 0, marginBottom: mb,
    style: {background: "transparent", overflow: "visible", fontFamily: FONT, fontSize: fs + "px", color: "#000"},
    x: {domain: X_DOMAIN, axis: null},
    y: {domain, range, axis: null},
    marks: [
      Plot.line(data, {x: "year", y: "v", stroke: color, strokeWidth: sw, strokeLinejoin: "round"}),
      Plot.ruleX([edge], {y1: domain[0], y2: domain[1], stroke: "#000", strokeWidth: 2}),
      Plot.axisY({anchor: side, ticks: major, tickSize: 9, tickPadding: 3, tickFormat: fmt, strokeWidth: 2, label: null, fontSize: fs}),
      Plot.axisY({anchor: side, ticks: minor, tickSize: 6, tickFormat: () => "", strokeWidth: 2, label: null}),
      ...extra
    ]
  });
  svg.querySelectorAll("text").forEach(t => t.setAttribute("font-size", fs));
  chart.appendChild(svg);
  return svg;
}

// 1 OWDA Central
panel({data: regular(centralStart, centralStep, centralVals), color: GREEN, sw: 1.2,
  domain: [-2, 2], range: [135.3, 31.3], side: "right", major: [-2,-1,0,1,2], minor: [-1.5,-0.5,0.5,1.5]});
// 2 Lake Pergusa
panel({data: pairs(pergusa), color: BLUE, sw: 2,
  domain: [0.5, 3.5], range: [164, 272], side: "left", major: [1,2,3], minor: [0.5,1.5,2.5,3.5]});
// 3 OWDA Eastern
panel({data: regular(easternStart, easternStep, easternVals), color: GREEN, sw: 1.2, fs: 16,
  domain: [-2.5, 2.5], range: [384.5, 289.5], side: "right", major: [-2,-1,0,1,2], minor: [-2.5,-1.5,-0.5,0.5,1.5,2.5]});
// 4 Aegean
panel({data: regular(aegeanStart, aegeanStep, aegeanVals), color: BROWN, sw: 1.3,
  domain: [40, 110], range: [527, 420.8], side: "left", major: [40,60,80,100], minor: [50,70,90,110]});
// 5 Uzuntarla
panel({data: pairs(uzuntarla), color: BLACK, sw: 1.5,
  domain: [-12, -9], range: [526, 632], side: "right", major: [-12,-11,-10,-9], minor: [-11.5,-10.5,-9.5]});
// 6 Sofular
panel({data: pairs(sofular), color: BLACK, sw: 1.5,
  domain: [-11.5, -8.5], range: [597.7, 707.6], side: "left", major: [-11,-10,-9], minor: [-11.5,-10.5,-9.5,-8.5]});
// 7 SW Turkey
panel({data: regular(swTurkeyStart, swTurkeyStep, swTurkeyVals), color: BROWN, sw: 1.3, fs: 16,
  domain: [40, 90], range: [788, 696], side: "right", major: [40,50,60,70,80,90], minor: [45,55,65,75,85]});
// 8 Nar Lake
panel({data: pairs(nar), color: BLUE, sw: 1.6,
  domain: [-6, 2], range: [785, 890], side: "left", major: [-6,-4,-2,0,2], minor: [-5,-3,-1,1]});
// 9 Kocain
panel({data: pairs(kocain), color: BLACK, sw: 1.5,
  domain: [-10, -4], range: [889, 1001.5], side: "right", major: [-10,-8,-6,-4], minor: [-9,-7,-5]});
// 10 Gejkar
panel({data: pairs(gejkar), color: BLACK, sw: 1.5,
  domain: [-5.5, -2], range: [1012.6, 1122.7], side: "left", major: [-5,-4,-3,-2], minor: [-5.5,-4.5,-3.5,-2.5]});
// 11 Jeita
panel({data: pairs(jeita), color: BLACK, sw: 1.5,
  domain: [-6.1, -5.0], range: [1080.5, 1185], side: "right", major: [-6,-5.6,-5.2], minor: [-5.8,-5.4,-5.0]});
// 12 Soreq + x axis
panel({data: pairs(soreq), color: BLACK, sw: 1.6, fs: 18,
  domain: [-6, -4], range: [1189.3, 1297.7], side: "left", major: [-6,-5.6,-5.2,-4.8,-4.4,-4], minor: [-5.8,-5.4,-5.0,-4.6,-4.2],
  mb: H - 1297.7,
  extra: [
    Plot.ruleY([-4], {stroke: "#000", strokeWidth: 2}),
    Plot.axisX({anchor: "bottom", ticks: xMinorTicks, tickSize: 9, tickFormat: () => "", strokeWidth: 2, label: null}),
    Plot.axisX({anchor: "bottom", ticks: xMajorTicks, tickSize: 9, tickPadding: 6, tickFormat: fmt, strokeWidth: 2, label: null})
  ]});

// ---------- overlay text ----------
const ov = d3.select(chart).append("svg")
  .attr("width", W).attr("height", H)
  .style("font-family", FONT);

function label(x, y, text, color = "#000", size = 19) {
  ov.append("text").attr("x", x).attr("y", y).attr("dominant-baseline", "central")
    .attr("font-size", size).attr("fill", color).text(text);
}
function vlabel(x, y, parts, size = 18) {
  const t = ov.append("text").attr("transform", `translate(${x},${y}) rotate(-90)`)
    .attr("text-anchor", "middle").attr("dominant-baseline", "central").attr("font-size", size);
  parts.forEach(p => {
    const s = t.append("tspan").text(p.t);
    if (p.sup) s.attr("baseline-shift", "super").attr("font-size", size * 0.65);
  });
}
const iso = (n, el, rest) => [{t: "δ"}, {t: n, sup: true}, {t: el + rest}];

label(105, 11, "OWDA Central Mediterranean (10-20°E, 30-45°N)", GREEN);
label(187, 203, "Lake Pergusa", BLUE);
label(89, 289, "OWDA Eastern Mediterranean (20-40°E, 30-45°N)", GREEN);
label(189, 413, "Aegean Tree rings", BROWN);
label(343, 552, "Uzuntarla Cave");
label(312, 636, "Sofular Cave");
label(97, 741, "SW Turkey Tree rings", BROWN);
label(237, 864, "Nar Lake", BLUE);
label(114, 922, "Kocain Cave");
label(97, 1077, "Gejkar Cave");
label(433, 1151, "Jeita Cave");
label(184, 1247, "Soreq Cave");
ov.append("text").attr("x", 368).attr("y", 1343).attr("text-anchor", "middle")
  .attr("dominant-baseline", "central").attr("font-size", 19).text("Year");

// right axis titles
vlabel(728, 83, [{t: "scPDSI"}], 19);
vlabel(728, 337, [{t: "scPDSI"}], 19);
vlabel(728, 580, iso("13", "C", " (‰ VPDB)"));
vlabel(728, 752, [{t: "Precip. (mm)"}], 19);
vlabel(728, 948, iso("13", "C", " (‰ VPDB)"));
vlabel(728, 1135, iso("18", "O", " (‰ VPDB)"));
// left axis titles
vlabel(13, 207, iso("18", "O", " ( ‰VPDB)"));
vlabel(13, 490, [{t: "Spring Precip. (mm)"}], 20);
vlabel(13, 655, iso("13", "C", " (‰ VPDB)"));
vlabel(13, 840, iso("18", "O", " (‰ VPDB)"));
vlabel(13, 1065, iso("18", "O", " (‰ VPDB)"));
vlabel(13, 1245, iso("18", "O", " (‰ VPDB)"));
</script></body></html>
